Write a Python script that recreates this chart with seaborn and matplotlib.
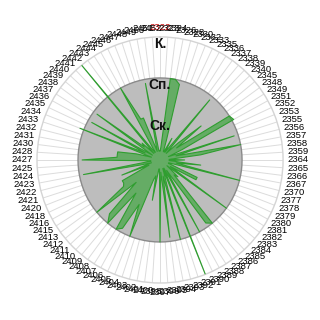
import numpy as np
import matplotlib
matplotlib.use("Agg")
import matplotlib.pyplot as plt
import seaborn as sns

categories = [
    2322, 2323, 2324, 2326, 2328, 2330, 2332, 2333, 2335,
    2336, 2337, 2338, 2339, 2340, 2345, 2348, 2349, 2351, 2352, 2353, 2355, 2356, 2357, 2358, 2359,
    2364, 2365, 2366, 2367, 2370, 2377, 2378, 2379, 2380, 2381, 2382, 2383, 2384,
    2385, 2386, 2387, 2388, 2389, 2390, 2391, 2392, 2393, 2394, 2395, 2396, 2397, 2398,
    2400, 2401, 2402, 2403, 2404, 2405, 2406,
    2407, 2408, 2409, 2410, 2411, 2412,
    2413, 2415, 2416, 2418, 2420, 2421, 2422, 2423, 2424, 2425,
    2427, 2428, 2430, 2431, 2432, 2433, 2434, 2435, 2436, 2437, 2438, 2439, 2440, 2441,
    2442, 2443, 2444, 2445, 2446, 2447, 2448, 2449, 2450, 2451, 2452,
]

green_values = [
    0.22, 0.3, 2.0, 2.0, 1.9, 0.5, 0.22, 0.22, 0.6, 0.22,
    0.4, 1.9, 0.22, 0.6, 1.3, 0.5, 2.0, 2.05, 0.6, 0.22,
    1.9, 0.4, 2.0, 1.0, 0.22, 0.6, 0.22, 1.0, 0.4, 2.0,
    0.22, 0.22, 1.0, 1.0, 0.3, 2.0, 0.22, 0.6, 0.5, 2.0,
    1.9, 0.3, 2.0, 0.22, 3.0, 0.22, 2.0, 0.4, 1.9, 0.3,
    2.0, 0.22, 0.22, 1.0, 0.4, 0.5, 2.0, 1.2, 1.9, 2.0,
    1.0, 2.0, 1.8, 0.8, 2.0, 1.1, 1.05, 1.05, 0.3, 1.0,
    0.22, 0.5, 1.9, 0.22, 0.3, 1.9, 1.05, 1.05, 1.05, 0.6,
    0.22, 2.1, 0.4, 1.9, 0.22, 1.9, 0.5, 0.6, 0.22, 3.0,
    0.3, 0.22, 2.0, 1.1, 1.1, 0.22, 0.4, 1.9, 0.22, 0.22,
]

gray_values = [
    2.0, 2.0, 2.0, 2.0, 2.0, 2.0, 2.0, 2.0, 2.0, 2.0,
    2.0, 2.0, 2.0, 2.0, 2.0, 2.0, 2.0, 2.0, 2.0, 2.0,
    2.0, 2.0, 2.0, 2.0, 2.0, 2.0, 2.0, 2.0, 2.0, 2.0,
    2.0, 2.0, 2.0, 2.0, 2.0, 2.0, 2.0, 2.0, 2.0, 2.0,
    2.0, 2.0, 2.0, 2.0, 2.0, 2.0, 2.0, 2.0, 2.0, 2.0,
    2.0, 2.0, 2.0, 2.0, 2.0, 2.0, 2.0, 2.0, 2.0, 2.0,
    2.0, 2.0, 2.0, 2.0, 2.0, 2.0, 2.0, 2.0, 2.0, 2.0,
    2.0, 2.0, 2.0, 2.0, 2.0, 2.0, 2.0, 2.0, 2.0, 2.0,
    2.0, 2.0, 2.0, 2.0, 2.0, 2.0, 2.0, 2.0, 2.0, 2.0,
    2.0, 2.0, 2.0, 2.0, 2.0, 2.0, 2.0, 2.0, 2.0, 2.0,
]

level_labels = ["Ск.", "Сп.", "К."]
level_values = [1, 2, 3]
highlight_category = 2322

sns.set_theme(style="white")
plt.rcParams["font.family"] = ["Liberation Sans", "DejaVu Sans"]

fig = plt.figure(figsize=(3.2, 3.2), dpi=100)
ax = fig.add_axes([0.1156, 0.1156, 0.769, 0.769], projection="polar")
ax.set_theta_zero_location("N")
ax.set_theta_direction(-1)

n = len(categories)
theta = np.linspace(0, 2 * np.pi, n, endpoint=False)
theta_c = np.append(theta, theta[0] + 2 * np.pi)
gray_c = np.append(gray_values, gray_values[0])
green_c = np.append(green_values, green_values[0])

ax.fill(theta_c, gray_c, facecolor="#bdbdbd", edgecolor="#8a8a8a", lw=1.0, zorder=2)
ax.fill(theta_c, green_c, facecolor=(0.17, 0.63, 0.17, 0.6), edgecolor="none", zorder=3)
sns.lineplot(x=theta_c, y=green_c, ax=ax, sort=False, estimator=None,
             color="#2f9e2f", lw=0.8, legend=False, zorder=4)

ax.set_ylim(0, 3)
ax.set_yticks([])
ax.set_xticks(theta)
ax.set_xticklabels([])
ax.tick_params(axis="x", length=0, pad=0)
ax.grid(axis="x", color="#dcdcdc", lw=0.7)
ax.grid(axis="y", visible=False)
ax.set_axisbelow(True)
ax.spines["polar"].set_color("#d4d4d4")
ax.spines["polar"].set_linewidth(1.0)
ax.set_facecolor("white")

for t, lab in zip(theta, categories):
    dx = np.sin(t) * 11.0
    dy = np.cos(t) * 6.5
    col = "#cc0000" if lab == highlight_category else "black"
    ax.annotate(str(lab), xy=(t, 3.0), xytext=(dx, dy), textcoords="offset points",
                ha="center", va="center", fontsize=6.8, color=col,
                annotation_clip=False, zorder=6)

for lab, r in zip(level_labels, level_values):
    ax.text(0, r, lab, ha="center", va="top", fontsize=10, fontweight="bold",
            color="#111111", zorder=7)

fig.savefig("out.png", dpi=100)
